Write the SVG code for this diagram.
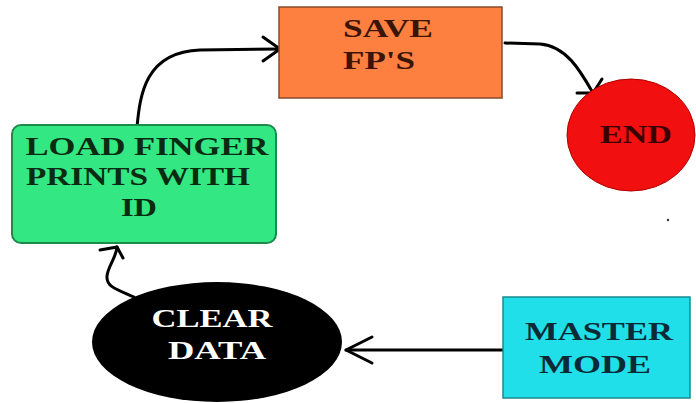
<svg xmlns="http://www.w3.org/2000/svg" width="696" height="403" viewBox="0 0 696 403">
  <defs>
    <style>
      .lbl { font-family: "Liberation Serif", "Times New Roman", serif; font-weight: bold; font-size: 26px; }
      .wire { fill: none; stroke: #000; stroke-width: 3; stroke-linecap: round; stroke-linejoin: round; }
    </style>
  </defs>
  <rect width="696" height="403" fill="#ffffff"/>

  <g id="connectors">
    <!-- load finger prints -> save -->
    <path class="wire" d="M137,127 C140,95 145,52 200,50 L280,49"/>
    <path class="wire" d="M263,37 L280,49 L263,61"/>
    <!-- save -> end -->
    <path class="wire" d="M505,43 L540,44 C566,46 580,70 593,93"/>
    <path class="wire" d="M602,79 L593,93 L577,93"/>
    <!-- master mode -> clear data -->
    <path class="wire" d="M503,350 L346,350"/>
    <path class="wire" d="M372,337 L346,350 L372,363"/>
    <!-- clear data -> load finger prints -->
    <path class="wire" d="M134,297 C118,290 106,287 107,276 C108,266 116,258 117,247"/>
    <path class="wire" d="M100,250 L117,247 L123,258"/>
  </g>

  <g id="load-finger-prints">
    <rect x="12" y="125" width="264" height="118" rx="9" fill="#33e882" stroke="#1c8a4a" stroke-width="2"/>
    <text class="lbl" fill="#0b2a12" x="147" y="155" text-anchor="middle" textLength="243" lengthAdjust="spacingAndGlyphs">LOAD FINGER</text>
    <text class="lbl" fill="#0b2a12" x="138" y="185" text-anchor="middle" textLength="224" lengthAdjust="spacingAndGlyphs">PRINTS WITH</text>
    <text class="lbl" fill="#0b2a12" x="139" y="216" text-anchor="middle" textLength="36" lengthAdjust="spacingAndGlyphs">ID</text>
  </g>

  <g id="save-fps">
    <rect x="279" y="7" width="223" height="91" fill="#fd8040" stroke="#8a4a2a" stroke-width="1.5"/>
    <text class="lbl" fill="#3a1405" x="343" y="37" textLength="90" lengthAdjust="spacingAndGlyphs">SAVE</text>
    <text class="lbl" fill="#3a1405" x="343" y="69" textLength="72" lengthAdjust="spacingAndGlyphs">FP'S</text>
  </g>

  <g id="end">
    <ellipse cx="631" cy="135" rx="64" ry="56" fill="#f20f0f" stroke="#b00000" stroke-width="1"/>
    <text class="lbl" fill="#3a0000" x="636" y="143" text-anchor="middle" textLength="72" lengthAdjust="spacingAndGlyphs">END</text>
  </g>
  <circle cx="668" cy="220" r="1.2" fill="#333"/>

  <g id="clear-data">
    <ellipse cx="217" cy="342" rx="125" ry="60" fill="#000"/>
    <text class="lbl" fill="#ffffff" x="212" y="327" text-anchor="middle" textLength="121" lengthAdjust="spacingAndGlyphs">CLEAR</text>
    <text class="lbl" fill="#ffffff" x="217" y="359" text-anchor="middle" textLength="98" lengthAdjust="spacingAndGlyphs">DATA</text>
  </g>

  <g id="master-mode">
    <rect x="503" y="297" width="187" height="101" fill="#20dfe8" stroke="#1a8a90" stroke-width="1.5"/>
    <text class="lbl" fill="#0b2a36" x="599" y="340" text-anchor="middle" textLength="148" lengthAdjust="spacingAndGlyphs">MASTER</text>
    <text class="lbl" fill="#0b2a36" x="595" y="373" text-anchor="middle" textLength="112" lengthAdjust="spacingAndGlyphs">MODE</text>
  </g>
</svg>
